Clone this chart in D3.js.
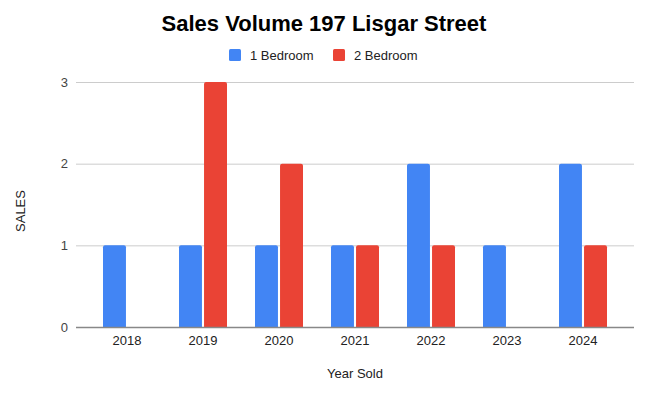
<!DOCTYPE html>
<html>
<head>
<meta charset="utf-8">
<script src="https://cdn.jsdelivr.net/npm/d3@7"></script>
<style>
  body { margin: 0; background: #fff; }
  text { font-family: Arial, "Liberation Sans", sans-serif; }
</style>
</head>
<body>
<div id="chart"></div>
<script>
// chart data
const years = ["2018", "2019", "2020", "2021", "2022", "2023", "2024"];
const seriesNames = ["1 Bedroom", "2 Bedroom"];
const oneBedroom = [1, 1, 1, 1, 2, 1, 2];
const twoBedroom = [0, 3, 2, 1, 1, 0, 1];
const yTicks = [0, 1, 2, 3];
const colors = ["#4285f4", "#ea4335"];

const W = 648, H = 395;
const plot = { left: 76, right: 634, top: 82, bottom: 327 };
const FONT = "Arial, 'Liberation Sans', sans-serif";

const svg = d3.select("#chart").append("svg")
    .attr("width", W)
    .attr("height", H);

// title
svg.append("text")
    .attr("x", 324).attr("y", 31)
    .attr("text-anchor", "middle")
    .style("font-size", "22px")
    .style("font-weight", "bold")
    .text("Sales Volume 197 Lisgar Street");

// legend
const legendX = [229, 333];
seriesNames.forEach(function (name, i) {
    svg.append("rect")
        .attr("x", legendX[i]).attr("y", 49)
        .attr("width", 12).attr("height", 12)
        .attr("rx", 1.5)
        .attr("fill", colors[i]);
    svg.append("text")
        .attr("x", legendX[i] + 21).attr("y", 60)
        .style("font-size", "13px")
        .attr("fill", "#222")
        .text(name);
});

// scales
const x = d3.scaleBand()
    .domain(years)
    .range([89, 621])
    .padding(0);

const inner = d3.scaleBand()
    .domain(seriesNames)
    .range([-24, 24])
    .paddingInner(0.083);

const y = d3.scaleLinear()
    .domain([0, 3])
    .range([plot.bottom, plot.top]);

// gridlines
svg.append("g")
    .selectAll("line")
    .data(yTicks.filter(d => d > 0))
    .join("line")
    .attr("x1", plot.left).attr("x2", plot.right)
    .attr("y1", d => y(d) + 0.5).attr("y2", d => y(d) + 0.5)
    .attr("stroke", "#cccccc");

// y axis labels
const yAxis = svg.append("g")
    .attr("transform", "translate(" + plot.left + ",0)")
    .call(d3.axisLeft(y).tickValues(yTicks).tickFormat(d3.format("d")).tickSize(0).tickPadding(8));
yAxis.select(".domain").remove();
yAxis.selectAll("text")
    .style("font-size", "13px")
    .style("font-family", FONT)
    .attr("fill", "#444");

// bars
const rows = years.map(function (yr, i) {
    return [
        { year: yr, series: seriesNames[0], value: oneBedroom[i], color: colors[0] },
        { year: yr, series: seriesNames[1], value: twoBedroom[i], color: colors[1] }
    ];
}).flat().filter(d => d.value > 0);

function barPath(d) {
    const cx = x(d.year) + x.bandwidth() / 2;
    const x0 = cx + inner(d.series), w = inner.bandwidth();
    const y0 = y(d.value), y1 = y(0), r = 2;
    return "M" + x0 + "," + y1 +
        "V" + (y0 + r) +
        "Q" + x0 + "," + y0 + " " + (x0 + r) + "," + y0 +
        "H" + (x0 + w - r) +
        "Q" + (x0 + w) + "," + y0 + " " + (x0 + w) + "," + (y0 + r) +
        "V" + y1 + "Z";
}

svg.append("g")
    .selectAll("path")
    .data(rows)
    .join("path")
    .attr("d", barPath)
    .attr("fill", d => d.color);

// baseline
svg.append("line")
    .attr("x1", plot.left).attr("x2", plot.right)
    .attr("y1", y(0) + 0.5).attr("y2", y(0) + 0.5)
    .attr("stroke", "#888")
    .attr("stroke-width", 1.5);

// x axis labels
const xAxis = svg.append("g")
    .attr("transform", "translate(0," + plot.bottom + ")")
    .call(d3.axisBottom(x).tickSize(0).tickPadding(9));
xAxis.select(".domain").remove();
xAxis.selectAll("text")
    .style("font-size", "13px")
    .style("font-family", FONT)
    .attr("fill", "#222");

// axis titles
svg.append("text")
    .attr("x", 355).attr("y", 378)
    .attr("text-anchor", "middle")
    .style("font-size", "13px")
    .attr("fill", "#222")
    .text("Year Sold");

svg.append("text")
    .attr("transform", "translate(25,211) rotate(-90)")
    .attr("text-anchor", "middle")
    .style("font-size", "13px")
    .attr("fill", "#222")
    .text("SALES");
</script>
</body>
</html>
